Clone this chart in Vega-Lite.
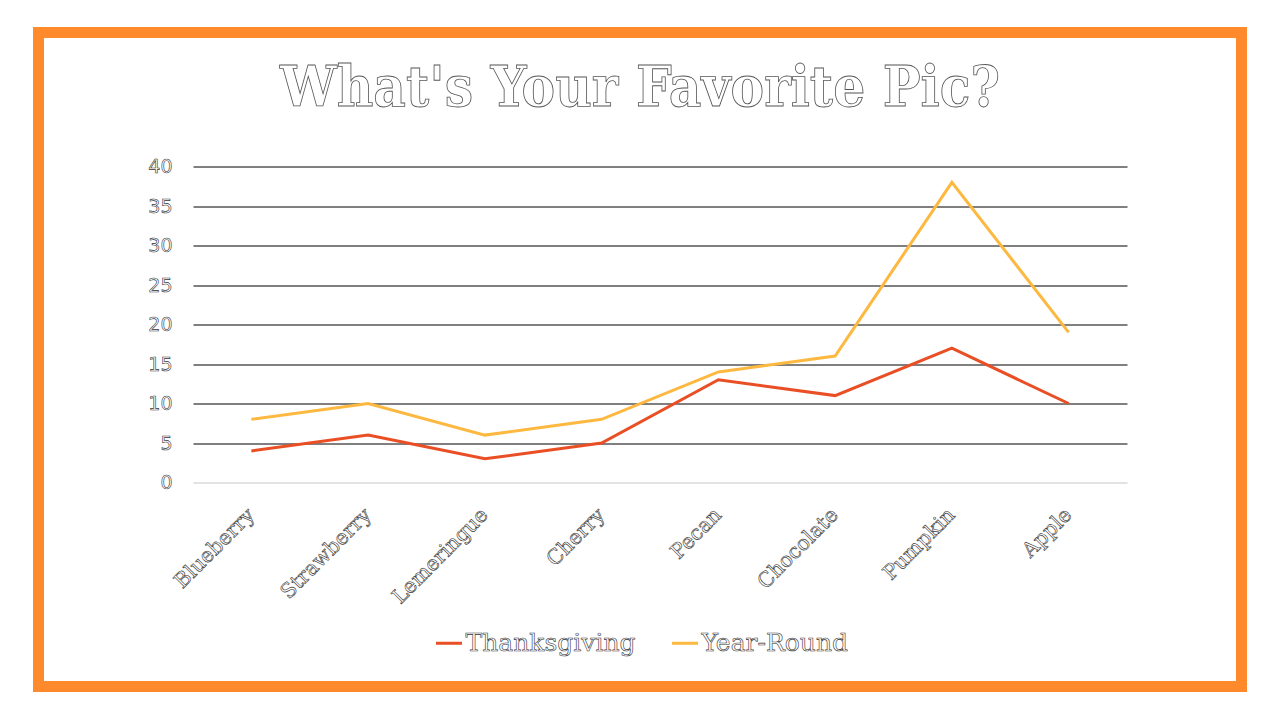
{
  "$schema": "https://vega.github.io/schema/vega-lite/v6.json",
  "width": 1203,
  "height": 654,
  "autosize": {"type": "none"},
  "padding": {"left": 38.5, "top": 32.5, "right": 38.5, "bottom": 33.5},
  "background": "white",
  "title": {
    "text": "What's Your Favorite Pic?",
    "anchor": "middle",
    "orient": "top",
    "frame": "group",
    "offset": -129,
    "baseline": "alphabetic",
    "font": "DejaVu Serif Condensed",
    "fontSize": 56,
    "fontWeight": "bold",
    "color": "white"
  },
  "data": {
    "values": [
      {"pie": "Blueberry", "series": "Thanksgiving", "votes": 4},
      {"pie": "Strawberry", "series": "Thanksgiving", "votes": 6},
      {"pie": "Lemeringue", "series": "Thanksgiving", "votes": 3},
      {"pie": "Cherry", "series": "Thanksgiving", "votes": 5},
      {"pie": "Pecan", "series": "Thanksgiving", "votes": 13},
      {"pie": "Chocolate", "series": "Thanksgiving", "votes": 11},
      {"pie": "Pumpkin", "series": "Thanksgiving", "votes": 17},
      {"pie": "Apple", "series": "Thanksgiving", "votes": 10},
      {"pie": "Blueberry", "series": "Year-Round", "votes": 8},
      {"pie": "Strawberry", "series": "Year-Round", "votes": 10},
      {"pie": "Lemeringue", "series": "Year-Round", "votes": 6},
      {"pie": "Cherry", "series": "Year-Round", "votes": 8},
      {"pie": "Pecan", "series": "Year-Round", "votes": 14},
      {"pie": "Chocolate", "series": "Year-Round", "votes": 16},
      {"pie": "Pumpkin", "series": "Year-Round", "votes": 38},
      {"pie": "Apple", "series": "Year-Round", "votes": 19}
    ]
  },
  "mark": {"type": "line", "strokeWidth": 3},
  "encoding": {
    "x": {
      "field": "pie",
      "type": "nominal",
      "sort": null,
      "scale": {"type": "band", "range": [154.5, 1088.5], "paddingInner": 0, "paddingOuter": 0},
      "axis": {
        "orient": "bottom",
        "offset": -204,
        "title": null,
        "ticks": false,
        "grid": false,
        "domainColor": "#d9d9d9",
        "domainWidth": 1,
        "labelAngle": -45,
        "labelAlign": "right",
        "labelBaseline": "middle",
        "labelPadding": 29,
        "labelFont": "DejaVu Serif",
        "labelFontSize": 20.5,
        "labelColor": "white"
      }
    },
    "y": {
      "field": "votes",
      "type": "quantitative",
      "scale": {"domain": [0, 40], "range": [450, 134], "nice": false, "zero": true},
      "axis": {
        "orient": "left",
        "offset": -154.5,
        "title": null,
        "ticks": false,
        "domain": false,
        "grid": true,
        "gridColor": {"condition": {"test": "datum.value === 0", "value": "#d9d9d9"}, "value": "#000000"},
        "gridOpacity": 1,
        "gridWidth": 1,
        "values": [0, 5, 10, 15, 20, 25, 30, 35, 40],
        "labelPadding": 21,
        "labelFont": "DejaVu Sans",
        "labelFontSize": 19,
        "labelColor": "white"
      }
    },
    "color": {
      "field": "series",
      "type": "nominal",
      "sort": ["Thanksgiving", "Year-Round"],
      "scale": {"range": ["#E94E24", "#FDB840"]},
      "legend": {
        "orient": "none",
        "legendX": 396,
        "legendY": 596,
        "direction": "horizontal",
        "title": null,
        "symbolType": "stroke",
        "symbolStrokeWidth": 3,
        "symbolSize": 676,
        "labelFont": "DejaVu Serif",
        "labelFontSize": 25,
        "labelLimit": 400,
        "labelColor": "white",
        "labelOffset": 2,
        "columnPadding": 30
      }
    }
  },
  "config": {
    "view": {"stroke": "#FF8A2B", "strokeWidth": 11, "fill": "white"},
    "style": {
      "guide-label": {"stroke": "#333333", "strokeWidth": 0.6},
      "group-title": {"stroke": "#555555", "strokeWidth": 0.8}
    }
  }
}
